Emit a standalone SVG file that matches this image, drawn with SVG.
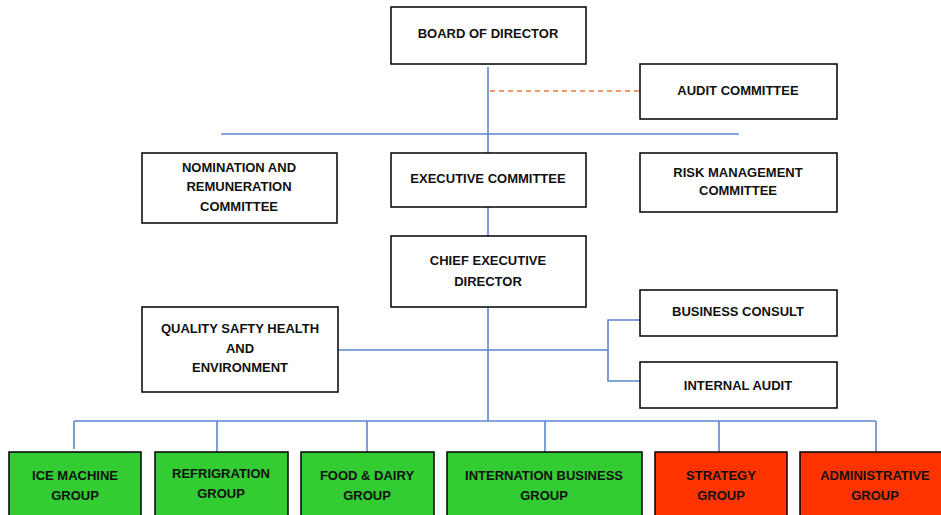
<svg xmlns="http://www.w3.org/2000/svg" width="941" height="515" viewBox="0 0 941 515">
<style>
.box{fill:#fff;stroke:#000;stroke-width:1.5}
.g{fill:#33cc33;stroke:#000;stroke-width:1.5}
.r{fill:#ff3300;stroke:#000;stroke-width:1.5}
.t{font-family:"Liberation Sans",Arial,sans-serif;font-weight:bold;font-size:13px;text-anchor:middle;fill:#111}
.ln{stroke:#5b87d0;stroke-width:1.6;fill:none}
.dash{stroke:#f07a3a;stroke-width:1.6;stroke-dasharray:5,4;fill:none}
</style>
<rect width="941" height="515" fill="#fff"/>
<g id="connectors">
<line class="ln" x1="488" y1="67" x2="488" y2="153"/>
<line class="dash" x1="490" y1="91" x2="640" y2="91"/>
<line class="ln" x1="221" y1="134" x2="739" y2="134"/>
<line class="ln" x1="488" y1="207" x2="488" y2="236"/>
<line class="ln" x1="488" y1="307" x2="488" y2="421"/>
<line class="ln" x1="338" y1="350" x2="608" y2="350"/>
<polyline class="ln" points="640,320 608,320 608,381 640,381"/>
<line class="ln" x1="74" y1="421" x2="876" y2="421"/>
<line class="ln" x1="74" y1="421" x2="74" y2="449"/>
<line class="ln" x1="217" y1="421" x2="217" y2="452"/>
<line class="ln" x1="367" y1="421" x2="367" y2="452"/>
<line class="ln" x1="545" y1="421" x2="545" y2="452"/>
<line class="ln" x1="719" y1="421" x2="719" y2="452"/>
<line class="ln" x1="876" y1="421" x2="876" y2="452"/>
</g>
<g id="board"><rect class="box" x="391" y="7" width="195" height="57"/><text class="t" x="488" y="38">BOARD OF DIRECTOR</text></g>
<g id="audit-committee"><rect class="box" x="640" y="64" width="197" height="55"/><text class="t" x="738" y="95">AUDIT COMMITTEE</text></g>
<g id="nomination"><rect class="box" x="142" y="153" width="195" height="70"/><text class="t" x="239" y="172">NOMINATION AND</text><text class="t" x="239" y="191">REMUNERATION</text><text class="t" x="239" y="211">COMMITTEE</text></g>
<g id="executive"><rect class="box" x="391" y="153" width="195" height="54"/><text class="t" x="488" y="183">EXECUTIVE COMMITTEE</text></g>
<g id="risk"><rect class="box" x="640" y="153" width="197" height="59"/><text class="t" x="738" y="177">RISK MANAGEMENT</text><text class="t" x="738" y="195">COMMITTEE</text></g>
<g id="ceo"><rect class="box" x="391" y="236" width="195" height="71"/><text class="t" x="488" y="265">CHIEF EXECUTIVE</text><text class="t" x="488" y="286">DIRECTOR</text></g>
<g id="qshe"><rect class="box" x="142" y="307" width="196" height="85"/><text class="t" x="240" y="333">QUALITY SAFTY HEALTH</text><text class="t" x="240" y="353">AND</text><text class="t" x="240" y="372">ENVIRONMENT</text></g>
<g id="business-consult"><rect class="box" x="640" y="290" width="197" height="46"/><text class="t" x="738" y="316">BUSINESS CONSULT</text></g>
<g id="internal-audit"><rect class="box" x="640" y="362" width="197" height="46"/><text class="t" x="738" y="390">INTERNAL AUDIT</text></g>
<g id="ice"><rect class="g" x="9" y="452" width="132" height="70"/><text class="t" x="75" y="480">ICE MACHINE</text><text class="t" x="75" y="500">GROUP</text></g>
<g id="refrig"><rect class="g" x="155" y="452" width="133" height="70"/><text class="t" x="221" y="478">REFRIGRATION</text><text class="t" x="221" y="498">GROUP</text></g>
<g id="food"><rect class="g" x="301" y="452" width="133" height="70"/><text class="t" x="367" y="480">FOOD &amp; DAIRY</text><text class="t" x="367" y="500">GROUP</text></g>
<g id="intern"><rect class="g" x="447" y="452" width="195" height="70"/><text class="t" x="544" y="480">INTERNATION BUSINESS</text><text class="t" x="544" y="500">GROUP</text></g>
<g id="strategy"><rect class="r" x="655" y="452" width="132" height="70"/><text class="t" x="721" y="480">STRATEGY</text><text class="t" x="721" y="500">GROUP</text></g>
<g id="admin"><rect class="r" x="800" y="452" width="150" height="70"/><text class="t" x="875" y="480">ADMINISTRATIVE</text><text class="t" x="875" y="500">GROUP</text></g>
</svg>
